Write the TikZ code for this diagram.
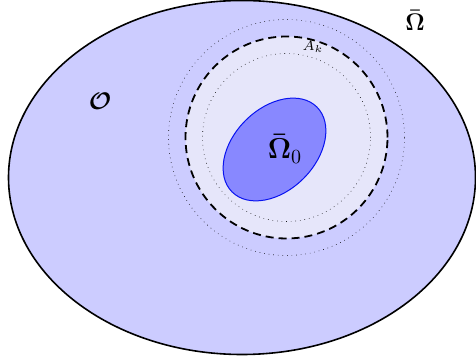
\documentclass[tikz,border=0pt]{standalone}
\usepackage{amsmath,amssymb,amsfonts}
\usepackage{xcolor}
\usepackage{tikz}
\definecolor{outerfill}{HTML}{CCCCFF}
\definecolor{annfill}{HTML}{E6E6FA}
\definecolor{corefill}{HTML}{8888FF}
\definecolor{coreline}{HTML}{0A14F0}

\begin{document}
\begin{tikzpicture}[
    x=0.5pt, y=0.5pt,
    outerset/.style={draw=black, thick, fill=outerfill},
    ring/.style={draw=black, dotted, line width=0.3pt},
    annulus/.style={draw=black, dash pattern=on 4pt off 2.5pt, line width=0.9pt, fill=annfill},
    core/.style={draw=coreline, line width=0.5pt, fill=corefill},
    lab/.style={inner sep=0pt},
  ]
  \useasboundingbox (0,0) rectangle (476,363);
  % outer domain
  \draw[outerset] (242,185.5) ellipse [x radius=233.5, y radius=177];
  % neighbourhood of the core
  \draw[ring] (286.5,225.5) circle [radius=118];
  \draw[annulus] (286.5,225.5) circle [radius=101];
  \draw[ring] (286.5,225.5) circle [radius=84];
  \draw[core, rotate around={45:(274.5,213.5)}] (274.5,213.5) ellipse [x radius=60, y radius=41];
  % labels
  \node[lab, font=\large] (obs)   at (100,262) {$\boldsymbol{\mathcal{O}}$};
  \node[lab, font=\large] (omega) at (415,343) {$\boldsymbol{\bar\Omega}$};
  \node[lab, font=\Large] (omega0) at (285,214) {$\boldsymbol{\bar\Omega}_0$};
  \node[lab, font=\scriptsize] (ak)    at (313,316) {$A_k$};
\end{tikzpicture}
\end{document}
